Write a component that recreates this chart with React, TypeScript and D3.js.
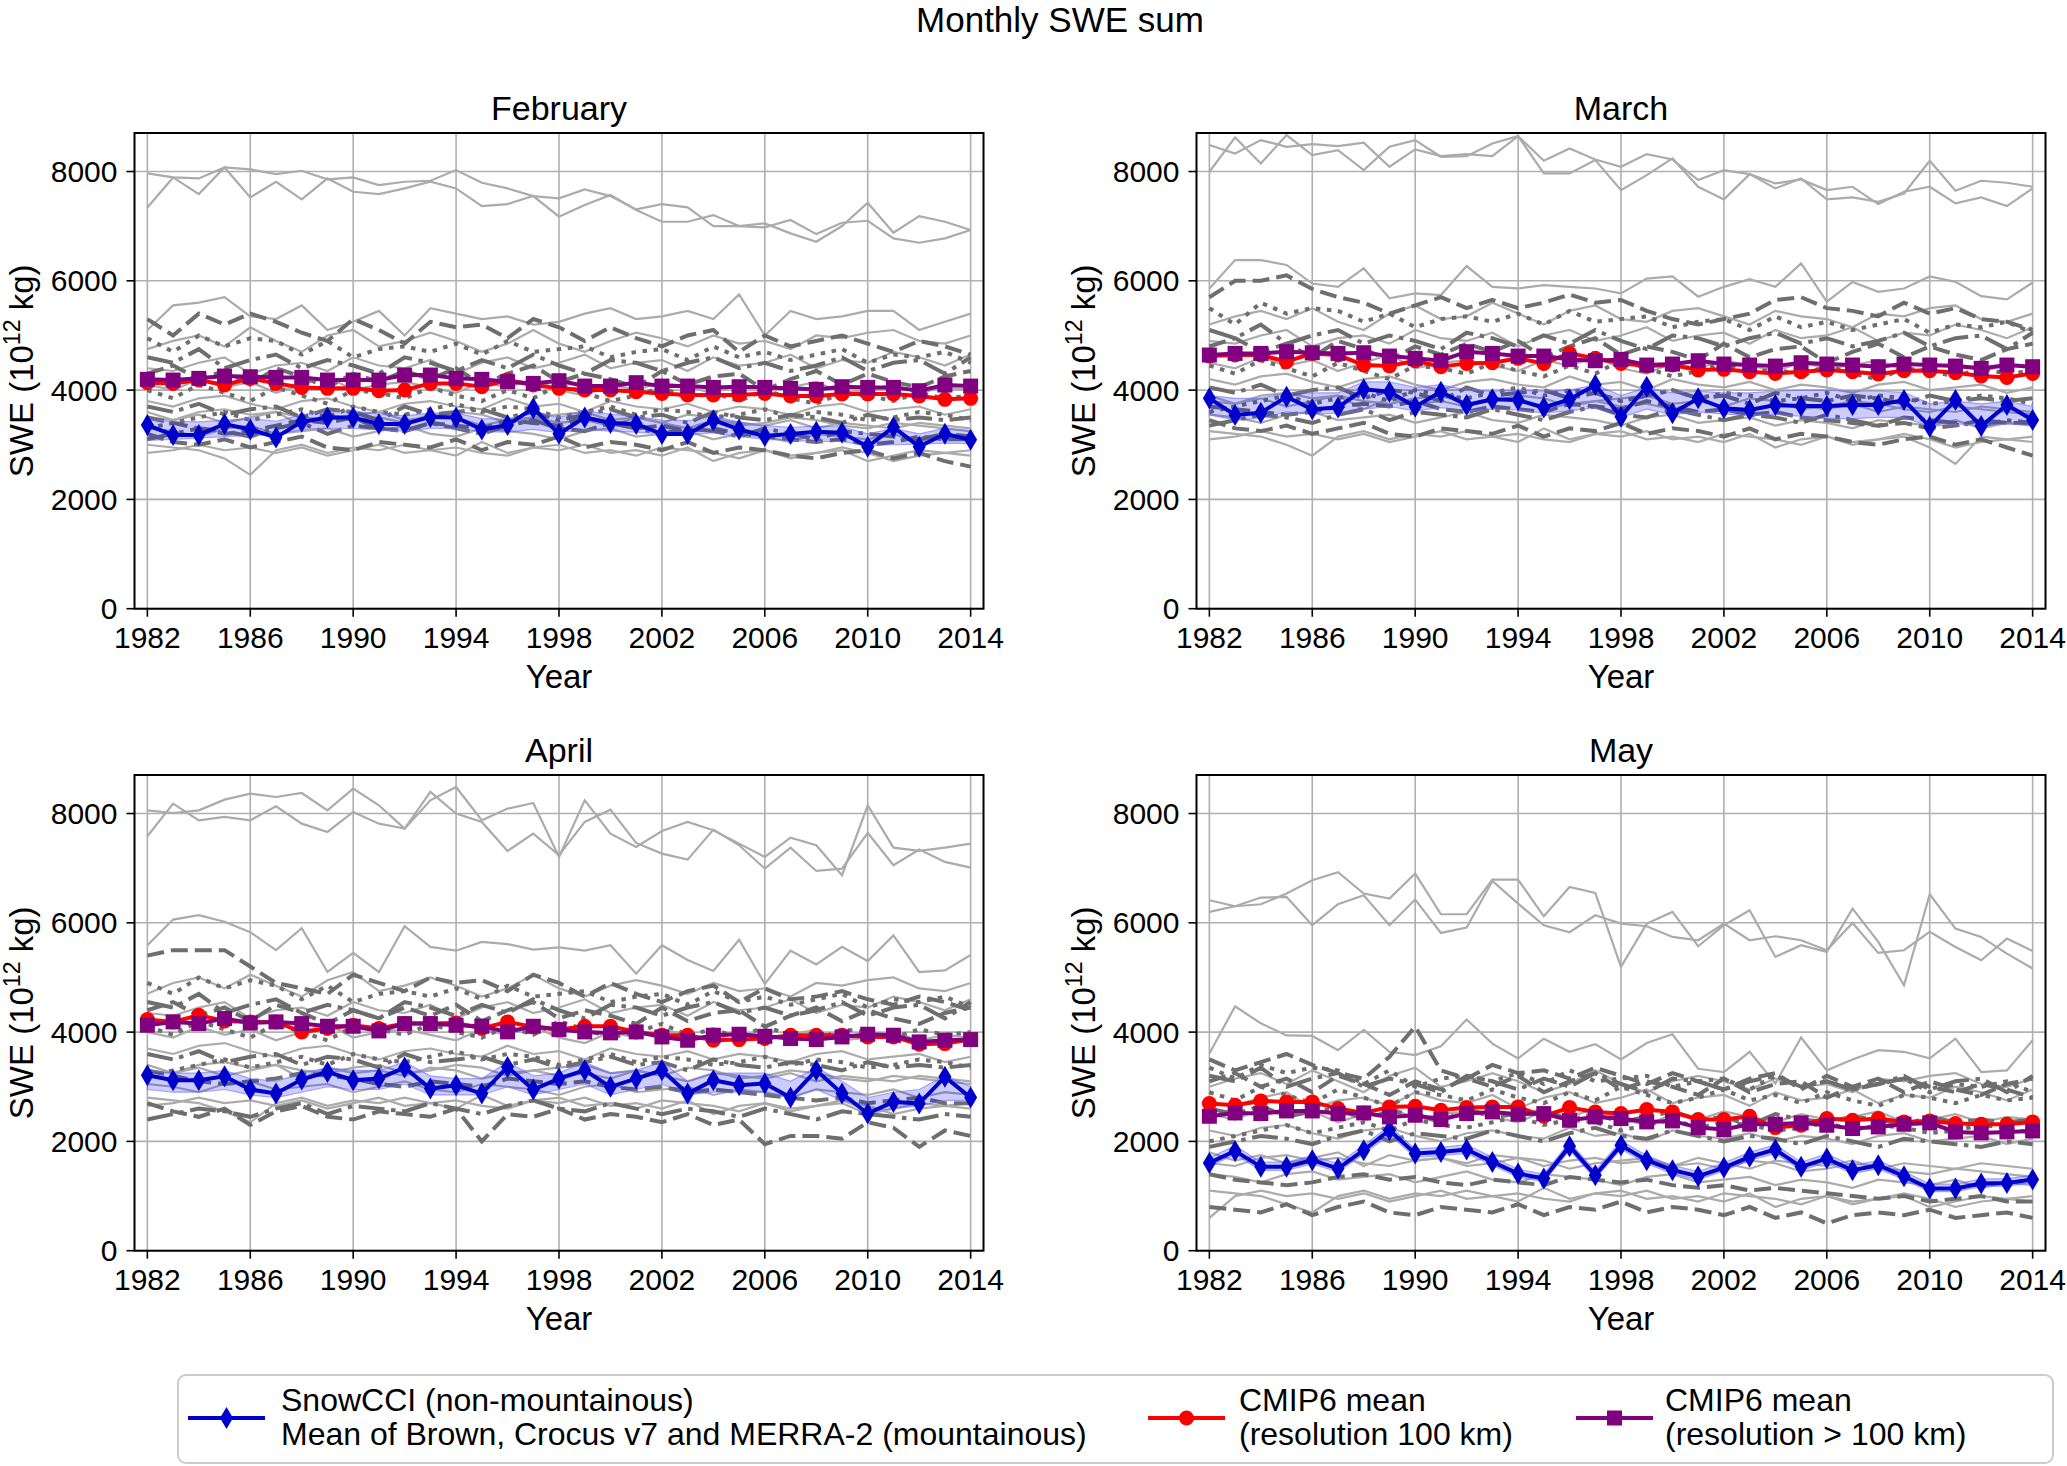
import * as d3 from "d3";
import React from "react";

// x categories and axis ticks
const years = d3.range(1982, 2015);
const yearTicks = [1982, 1986, 1990, 1994, 1998, 2002, 2006, 2010, 2014];
const sweTicks = [0, 2000, 4000, 6000, 8000];

// line style of every CMIP6 model, same order in all four months
const modelStyles = [
  "solid", "solid", "solid", "solid", "dashed", "dotted", "dashdot", "solid", "dashed", "solid", "dotted",
  "solid", "dashdot", "solid", "dashed", "solid", "dashed", "solid", "solid", "dotted", "solid", "dashdot",
];

// ---------------- February ----------------
const febObs = [3360,3180,3180,3380,3280,3135,3420,3500,3500,3380,3380,3510,3500,3280,3360,3670,3200,3500,3400,3380,3195,3195,3450,3280,3160,3195,3240,3220,2965,3320,2965,3200,3090];
const febFine = [4136,4123,4184,4093,4215,4123,4050,4032,4032,3989,4001,4123,4123,4062,4184,4093,4032,4001,4001,3971,3940,3910,3910,3910,3940,3892,3892,3928,3928,3928,3892,3831,3849];
const febCoarse = [4197,4184,4215,4257,4245,4233,4233,4184,4184,4184,4276,4276,4215,4197,4154,4123,4172,4074,4074,4136,4074,4074,4050,4062,4050,4032,4013,4062,4050,4050,3989,4093,4074];
const febLow = [3080,3100,3120,3150,3170,3180,3280,3300,3300,3270,3250,3300,3300,3240,3230,3280,3220,3280,3250,3230,3200,3180,3220,3150,3100,3080,3060,3060,2980,3000,3010,3030,3020];
const febHigh = [3450,3430,3420,3450,3480,3430,3550,3600,3620,3560,3530,3580,3580,3480,3470,3600,3500,3620,3560,3520,3450,3440,3520,3420,3350,3320,3340,3330,3200,3300,3200,3300,3250];
const febModels = [
  [7965,7892,7874,8075,8039,7953,8014,7856,7892,7752,7813,7831,8026,7795,7691,7551,7508,7673,7551,7307,7404,7343,7002,7002,6977,7112,6855,7063,7099,6776,6697,6776,6929],
  [7343,7892,7587,8075,7526,7813,7490,7874,7630,7587,7691,7813,7691,7368,7404,7551,7173,7386,7569,7295,7081,7081,7203,7002,7051,6868,6715,7002,7429,6880,7185,7081,6929],
  [5100,5550,5600,5700,5350,5300,5550,5100,5250,5450,5000,5500,5400,5300,5350,5200,5250,5400,5500,5300,5350,5450,5300,5750,5000,5450,5300,5350,5450,5450,5100,5250,5400],
  [4750,4900,5000,4800,5150,4900,4700,5000,5100,4800,4900,5050,4900,4700,4850,5100,4850,4700,4900,5050,4950,4800,5000,4850,4900,4750,5000,4950,5050,5100,4900,4850,5000],
  [5300,5000,5400,5200,5400,5250,5050,4900,5300,5100,4850,5250,5150,5200,4950,5300,5150,4900,5150,4950,4800,5000,5100,4700,5000,4800,4900,5000,4850,4700,4900,4800,4650],
  [4950,4700,5000,4800,4950,4900,4650,4900,4600,4750,4800,4700,4850,4650,4900,4700,4750,4800,4600,4700,4750,4550,4800,4600,4700,4550,4650,4750,4500,4650,4600,4700,4500],
  [4600,4500,4750,4400,4550,4650,4400,4550,4450,4300,4600,4500,4350,4550,4400,4650,4450,4300,4550,4500,4350,4500,4600,4400,4500,4350,4450,4600,4350,4500,4550,4300,4600],
  [4400,4350,4500,4600,4300,4450,4500,4350,4600,4450,4400,4550,4300,4500,4600,4400,4500,4650,4400,4500,4550,4350,4600,4450,4500,4650,4400,4550,4500,4700,4600,4450,4650],
  [4300,4450,4200,4350,4100,4400,4250,4050,4300,4150,4350,4200,4400,4100,4300,4450,4150,4300,4200,4050,4350,4100,4250,4300,4000,4200,4350,4100,4300,4150,4050,4250,4350],
  [4100,4000,4200,4050,4150,3950,4100,4250,4000,4100,4150,4050,3950,4150,4050,4200,4000,3900,4100,4000,4150,4050,3950,4100,4000,4050,4150,3950,4000,4100,3950,4050,4000],
  [4000,3850,4100,3950,3800,4050,3900,3750,4000,3950,3850,4050,3900,3800,4000,3850,4100,3950,3800,3900,4050,3850,3950,3800,4000,3850,3750,3950,3900,3800,3950,3850,3900],
  [3800,3700,3850,3900,3750,3650,3800,3850,3700,3600,3750,3800,3700,3650,3850,3700,3750,3600,3800,3700,3650,3750,3600,3700,3650,3550,3700,3750,3600,3650,3700,3550,3650],
  [3700,3600,3750,3550,3650,3700,3500,3650,3600,3450,3700,3550,3600,3650,3500,3600,3450,3550,3650,3500,3550,3400,3600,3500,3450,3550,3500,3400,3550,3450,3500,3450,3500],
  [3600,3450,3550,3400,3500,3600,3350,3550,3450,3500,3400,3550,3500,3350,3450,3500,3400,3450,3350,3500,3400,3300,3450,3400,3350,3450,3300,3400,3350,3300,3400,3350,3300],
  [3500,3400,3300,3200,3250,3350,3450,3400,3500,3300,3250,3400,3350,3300,3450,3400,3350,3500,3400,3300,3350,3250,3300,3200,3150,3100,3050,3100,3000,3050,3150,3100,3100],
  [3300,3250,3150,3300,3350,3200,3250,3300,3150,3250,3350,3200,3150,3300,3250,3200,3100,3250,3300,3150,3200,3250,3100,3200,3150,3050,3200,3150,3100,3200,3050,3150,3100],
  [3200,3050,3000,3100,2950,3050,3150,2950,2900,3050,3000,2950,3100,2900,3050,3000,3150,2950,3050,3000,2900,3050,2850,2950,2900,2800,2750,2850,2900,2750,2850,2700,2600],
  [3000,2950,2900,2750,2450,2900,3000,2850,2950,2900,3000,2900,2800,3050,2850,2950,2900,3000,2850,2900,2800,2950,2700,2850,2900,2750,2850,2900,2700,2800,2900,2850,2900],
  [2850,2900,3000,2900,2950,2850,2950,2800,2900,3000,2850,2900,2950,2850,2800,2950,3000,2850,2900,2800,2950,2900,2850,2750,2900,2800,2850,2950,2850,2700,2800,2850,2800],
  [3300,3400,3500,3600,3450,3550,3650,3500,3700,3600,3550,3650,3750,3600,3700,3650,3500,3600,3700,3550,3650,3600,3500,3550,3650,3500,3600,3550,3450,3500,3600,3550,3450],
  [3500,3450,3600,3650,3550,3600,3500,3450,3550,3600,3450,3500,3600,3550,3400,3500,3550,3600,3450,3500,3400,3550,3500,3350,3400,3500,3450,3350,3300,3400,3350,3300,3250],
  [3100,3200,3300,3250,3150,3300,3400,3200,3350,3300,3250,3400,3300,3200,3350,3450,3300,3250,3400,3300,3200,3300,3250,3150,3300,3200,3100,3250,3200,3150,3100,3200,3150],
];

// ---------------- March ----------------
const marObs = [3849,3544,3587,3879,3648,3684,4014,3971,3697,3971,3727,3831,3818,3684,3831,4093,3514,4062,3575,3849,3666,3636,3727,3709,3709,3727,3727,3818,3331,3818,3343,3727,3453];
const marFine = [4623,4642,4642,4520,4672,4642,4459,4440,4538,4428,4489,4501,4581,4489,4672,4581,4489,4440,4459,4367,4380,4337,4306,4337,4367,4337,4294,4355,4355,4318,4258,4233,4306];
const marCoarse = [4642,4672,4672,4703,4684,4672,4684,4623,4581,4538,4703,4672,4623,4623,4562,4538,4562,4459,4477,4538,4477,4459,4440,4501,4477,4459,4428,4477,4459,4440,4398,4459,4428];
const marLow = [3550,3450,3480,3600,3560,3580,3650,3700,3620,3680,3620,3650,3640,3580,3620,3680,3500,3650,3550,3600,3560,3540,3560,3520,3480,3480,3500,3500,3330,3380,3360,3380,3360];
const marHigh = [3900,3850,3850,3950,3950,3950,4150,4150,4050,4100,4000,3980,4000,3980,4000,4100,3900,4050,3950,3980,3950,3950,3980,4000,4000,3980,3980,3960,3750,3800,3750,3800,3700];
const marModels = [
  [8484,8331,8575,8453,8502,8465,8526,8087,8404,8282,8319,8282,8648,8197,8423,8221,8087,8319,8221,7843,8026,7953,7782,7856,7660,7721,7404,7630,7721,7416,7526,7368,7691],
  [7996,8624,8148,8667,8301,8392,8026,8453,8575,8270,8282,8514,8648,7965,7965,8209,7660,7935,8240,7721,7490,7953,7691,7874,7490,7526,7447,7599,8197,7648,7831,7795,7721],
  [5860,6380,6380,6290,5950,5890,6230,5680,5770,5740,6270,5890,5860,5920,5890,5860,5770,6040,6080,5710,5890,6030,5890,6320,5620,5980,5800,5860,6080,5980,5720,5660,5970],
  [5200,5350,5450,5300,5500,5250,5100,5400,5550,5300,5350,5600,5400,5200,5450,5550,5300,5250,5450,5500,5350,5200,5450,5350,5300,5150,5400,5350,5500,5550,5300,5250,5400],
  [5700,6000,6000,6100,5850,5700,5600,5400,5550,5700,5500,5650,5500,5600,5750,5600,5650,5450,5300,5200,5300,5400,5650,5700,5500,5450,5350,5600,5400,5500,5300,5250,5100],
  [5500,5200,5600,5400,5500,5450,5250,5400,5150,5300,5350,5250,5400,5200,5450,5250,5300,5350,5150,5250,5300,5100,5350,5150,5250,5100,5200,5300,5050,5200,5150,5250,5050],
  [5100,4950,5200,4850,5000,5100,4850,5000,4900,4750,5050,4950,4800,5000,4850,5100,4900,4750,5000,4950,4800,4950,5050,4850,4950,4800,4900,5050,4800,4950,5000,4750,5050],
  [4900,4850,5000,5100,4800,4950,5000,4850,5100,4950,4900,5050,4800,5000,5100,4900,5000,5150,4900,5000,5050,4850,5100,4950,5000,5150,4900,5050,5000,5200,5100,4950,5150],
  [4800,4950,4700,4850,4600,4900,4750,4550,4800,4650,4850,4700,4900,4600,4800,4950,4650,4800,4700,4550,4850,4600,4750,4800,4500,4700,4850,4600,4800,4650,4550,4750,4850],
  [4500,4400,4600,4450,4550,4350,4500,4650,4400,4500,4550,4450,4350,4550,4450,4600,4400,4300,4500,4400,4550,4450,4350,4500,4400,4450,4550,4350,4400,4500,4350,4450,4400],
  [4450,4300,4550,4400,4250,4500,4350,4200,4450,4400,4300,4500,4350,4250,4450,4300,4550,4400,4250,4350,4500,4300,4400,4250,4450,4300,4200,4400,4350,4250,4400,4300,4350],
  [4200,4100,4250,4300,4150,4050,4200,4250,4100,4000,4150,4200,4100,4050,4250,4100,4150,4000,4200,4100,4050,4150,4000,4100,4050,3950,4100,4150,4000,4050,4100,3950,4050],
  [4050,3950,4100,3900,4000,4050,3850,4000,3950,3800,4050,3900,3950,4000,3850,3950,3800,3900,4000,3850,3900,3750,3950,3850,3800,3900,3850,3750,3900,3800,3850,3800,3850],
  [3900,3750,3850,3700,3800,3900,3650,3850,3750,3800,3700,3850,3800,3650,3750,3800,3700,3750,3650,3800,3700,3600,3750,3700,3650,3750,3600,3700,3650,3600,3700,3650,3600],
  [3700,3650,3600,3550,3600,3700,3750,3700,3800,3650,3600,3700,3650,3600,3750,3700,3650,3800,3700,3600,3650,3550,3600,3500,3450,3400,3350,3400,3300,3350,3450,3400,3400],
  [3550,3500,3400,3550,3600,3450,3500,3550,3400,3500,3600,3450,3400,3550,3500,3450,3350,3500,3550,3400,3450,3500,3350,3450,3400,3300,3450,3400,3350,3450,3300,3400,3350],
  [3450,3300,3250,3350,3200,3300,3400,3200,3150,3300,3250,3200,3350,3150,3300,3250,3400,3200,3300,3250,3150,3300,3100,3200,3150,3050,3000,3100,3150,3000,3100,2950,2800],
  [3250,3200,3150,3000,2800,3150,3250,3100,3200,3150,3250,3150,3050,3300,3100,3200,3150,3250,3100,3150,3050,3200,2950,3100,3150,3000,3100,3150,2950,2650,3150,3100,3150],
  [3100,3150,3250,3150,3200,3100,3200,3050,3150,3250,3100,3150,3200,3100,3050,3200,3250,3100,3150,3050,3200,3150,3100,3000,3150,3050,3100,3200,3100,2950,3050,3100,3050],
  [3600,3700,3800,3900,3750,3850,3950,3800,4000,3900,3850,3950,4050,3900,4000,3950,3800,3900,4000,3850,3950,3900,3800,3850,3950,3800,3900,3850,3750,3800,3900,3850,3750],
  [3800,3750,3900,3950,3850,3900,3800,3750,3850,3900,3750,3800,3900,3850,3700,3800,3850,3900,3750,3800,3700,3850,3800,3650,3700,3800,3750,3650,3600,3700,3650,3600,3550],
  [3350,3450,3550,3500,3400,3550,3650,3450,3600,3550,3500,3650,3550,3450,3600,3700,3550,3500,3650,3550,3450,3550,3500,3400,3550,3450,3350,3500,3450,3400,3350,3450,3400],
];

// ---------------- April ----------------
const aprObs = [3211,3120,3120,3193,2949,2876,3132,3272,3120,3150,3351,2967,3028,2876,3363,2949,3150,3302,2998,3150,3302,2876,3120,3028,3059,2802,3302,2876,2510,2723,2693,3181,2802];
const aprFine = [4229,4187,4309,4205,4187,4187,4004,4065,4126,4065,4156,4156,4168,4065,4187,4095,4046,4107,4107,4004,3943,3943,3851,3863,3882,3943,3943,3943,3912,3912,3778,3790,3863];
const aprCoarse = [4126,4187,4156,4248,4168,4187,4156,4107,4107,4022,4156,4156,4126,4107,4004,4107,4046,4004,3986,4004,3912,3851,3943,3961,3924,3882,3863,3912,3961,3943,3821,3851,3863];
const aprLow = [2950,2900,2900,2950,2850,2800,2900,3000,2950,2950,3050,2850,2850,2850,3000,2850,2950,3050,2850,2950,3050,2850,2900,2900,2900,2800,2950,2750,2550,2600,2650,2750,2750];
const aprHigh = [3300,3250,3250,3300,3150,3100,3250,3350,3300,3300,3450,3200,3150,3150,3450,3200,3250,3450,3250,3300,3450,3100,3250,3250,3250,3100,3350,3100,2800,2900,2950,3200,3000];
const aprModels = [
  [8059,8010,8059,8254,8364,8303,8376,8059,8456,8151,7724,8242,8486,7876,8090,8193,7206,8242,7632,7388,7681,7846,7693,7449,7206,7559,7419,6870,8151,7376,7315,7376,7449],
  [7584,8181,7876,7937,7876,8132,7815,7663,8029,7815,7724,8395,7998,7846,7315,7632,7236,7846,8071,7462,7266,7157,7706,7419,6992,7376,6949,6992,7645,7053,7340,7114,7010],
  [5590,6060,6140,6020,5830,5500,5900,5100,5450,5100,5940,5560,5490,5650,5610,5510,5550,5490,5590,5070,5590,5320,5120,5690,4880,5490,5240,5560,5300,5770,5100,5130,5410],
  [4700,4900,5000,4800,5050,4850,4650,4950,5100,4750,4850,5000,4850,4650,4800,5050,4800,4650,4850,4950,4850,4700,4900,4750,4800,4650,4900,4850,4950,5000,4800,4750,4900],
  [5400,5500,5500,5500,5200,4900,4800,4700,5050,4900,4750,5000,4900,4950,4750,5050,4900,4650,4900,4700,4550,4750,4850,4550,4800,4600,4650,4750,4600,4500,4650,4550,4400],
  [4900,4700,5000,4800,4950,4850,4600,4850,4550,4700,4750,4650,4800,4600,4850,4650,4700,4750,4550,4650,4700,4500,4750,4550,4650,4500,4600,4700,4450,4600,4550,4650,4450],
  [4550,4450,4700,4350,4500,4600,4350,4500,4400,4250,4550,4450,4300,4500,4350,4600,4400,4250,4500,4450,4300,4450,4550,4350,4450,4300,4400,4550,4300,4450,4500,4250,4550],
  [4350,4300,4450,4550,4250,4400,4450,4300,4550,4400,4350,4500,4250,4450,4550,4350,4450,4600,4350,4450,4500,4300,4550,4400,4450,4600,4350,4500,4450,4650,4550,4400,4600],
  [4400,4550,4300,4450,4200,4500,4350,4150,4400,4250,4450,4300,4500,4200,4400,4550,4250,4400,4300,4150,4450,4200,4350,4400,4100,4300,4450,4200,4400,4250,4150,4350,4450],
  [4000,3900,4100,3950,4050,3850,4000,4150,3900,4000,4050,3950,3850,4050,3950,4100,3900,3800,4000,3900,4050,3950,3850,4000,3900,3950,4050,3850,3900,4000,3850,3950,3900],
  [4100,3950,4200,4050,3900,4150,4000,3850,4100,4050,3950,4150,4000,3900,4100,3950,4200,4050,3900,4000,4150,3950,4050,3900,4100,3950,3850,4050,4000,3900,4050,3950,4000],
  [3700,3600,3750,3800,3650,3550,3700,3750,3600,3500,3650,3700,3600,3550,3750,3600,3650,3500,3700,3600,3550,3650,3500,3600,3550,3450,3600,3650,3500,3550,3600,3450,3550],
  [3600,3500,3650,3450,3550,3600,3400,3550,3500,3350,3600,3450,3500,3550,3400,3500,3350,3450,3550,3400,3450,3300,3500,3400,3350,3450,3400,3300,3450,3350,3400,3350,3400],
  [3400,3250,3350,3200,3300,3400,3150,3350,3250,3300,3200,3350,3300,3150,3250,3300,3200,3250,3150,3300,3200,3100,3250,3200,3150,3250,3100,3200,3150,3100,3200,3150,3100],
  [3300,3200,3100,3050,3100,3150,3250,3200,3150,3050,3000,3100,3050,3000,3150,3100,3050,3100,3000,2950,3000,2900,2950,2900,2850,2800,2750,2800,2700,2750,2800,2700,2700],
  [3050,3000,2900,3050,3100,2950,3000,3050,2900,3000,3100,2950,2900,3050,3000,2950,2850,3000,3050,2900,2950,3000,2850,2950,2900,2800,2950,2900,2850,2950,2800,2900,2850],
  [2700,2550,2450,2600,2300,2550,2650,2450,2400,2550,2500,2450,2600,2000,2500,2450,2600,2400,2500,2450,2350,2500,2300,2400,1950,2100,2100,2050,2350,2250,1900,2200,2100],
  [2800,2750,2700,2550,2350,2700,2800,2650,2750,2700,2800,2700,2600,2850,2650,2750,2700,2800,2650,2700,2600,2750,2500,2650,2700,2550,2650,2700,2500,2600,2700,2650,2700],
  [2650,2700,2800,2700,2750,2650,2750,2600,2700,2800,2650,2700,2750,2650,2600,2750,2800,2650,2700,2600,2750,2700,2650,2550,2700,2600,2650,2750,2650,2500,2600,2650,2600],
  [3200,3300,3400,3500,3350,3450,3550,3400,3600,3500,3450,3550,3650,3500,3600,3550,3400,3500,3600,3450,3550,3500,3400,3450,3550,3400,3500,3450,3350,3400,3500,3450,3350],
  [3300,3250,3400,3450,3350,3400,3300,3250,3350,3400,3250,3300,3400,3350,3200,3300,3350,3400,3250,3300,3200,3350,3300,3150,3200,3300,3250,3150,3100,3200,3150,3100,3050],
  [2400,2500,2600,2550,2450,2600,2700,2500,2650,2600,2550,2700,2600,2500,2650,2750,2600,2550,2700,2600,2500,2600,2550,2450,2600,2500,2400,2550,2500,2450,2400,2500,2450],
];

// ---------------- May ----------------
const mayObs = [1607,1826,1534,1534,1656,1503,1839,2204,1778,1808,1851,1625,1412,1320,1912,1381,1930,1656,1473,1363,1521,1717,1851,1534,1686,1473,1564,1363,1137,1137,1229,1241,1302];
const mayFine = [2692,2662,2741,2723,2723,2601,2521,2631,2643,2570,2619,2631,2631,2460,2619,2540,2509,2582,2540,2400,2400,2460,2253,2296,2418,2387,2418,2357,2375,2326,2314,2314,2357];
const mayCoarse = [2460,2521,2509,2558,2558,2509,2521,2448,2479,2400,2509,2540,2497,2509,2387,2448,2418,2357,2375,2253,2217,2314,2314,2339,2296,2235,2265,2314,2339,2174,2156,2174,2192];
const mayLow = [1540,1760,1470,1470,1590,1440,1770,2120,1710,1740,1780,1560,1350,1260,1840,1320,1860,1590,1410,1300,1460,1650,1780,1470,1620,1410,1500,1300,1080,1080,1170,1180,1240];
const mayHigh = [1700,1920,1620,1620,1740,1590,1930,2280,1860,1890,1940,1710,1490,1400,1990,1460,2010,1740,1560,1450,1610,1800,1940,1620,1770,1560,1650,1450,1220,1220,1310,1320,1380];
const mayModels = [
  [6413,6303,6340,6535,6779,6925,6535,6443,6901,6157,6157,6791,6791,6120,6657,6547,5193,5986,6199,5571,5956,6230,5376,5590,5468,6260,5651,4858,6523,5895,5742,5437,5163],
  [6199,6303,6462,6474,5956,6340,6504,5956,6425,5815,5913,6767,6352,5956,5827,6138,5986,5937,5742,5681,5986,5681,5754,5681,5498,5998,5449,5498,5834,5559,5315,5712,5486],
  [3610,4470,4160,3940,3930,3670,4040,3640,3580,3740,4230,3790,3520,3880,3640,3780,3500,3800,3960,3330,3270,3640,3060,3900,3300,3500,3670,3640,3520,3880,3270,3300,3850],
  [3000,3150,3250,3050,3300,3100,2900,3200,3350,3000,3100,3250,3100,2900,3050,3300,3050,2900,3100,3200,3100,2950,3150,3000,3050,2900,3150,3100,3200,3250,3050,3000,3150],
  [3500,3300,3450,3600,3400,3250,3150,3550,4100,3300,3150,3400,3250,3300,3150,3350,3200,3050,3250,3100,2950,3150,3250,2950,3200,3000,3050,3150,3000,2900,3050,2950,2800],
  [3350,3150,3400,3250,3350,3300,3050,3300,3000,3150,3200,3100,3250,3050,3300,3100,3150,3200,3000,3100,3150,2950,3200,3000,3100,2950,3050,3150,2900,3050,3000,3100,2900],
  [3200,3100,3350,3000,3150,3250,3000,3150,3050,2900,3200,3100,2950,3150,3000,3250,3050,2900,3150,3100,2950,3100,3200,3000,3100,2950,3050,3200,2950,3100,3150,2900,3200],
  [2700,2650,2800,2900,2600,2750,2800,2650,2900,2750,2700,2850,2600,2800,2900,2700,2800,2950,2700,2800,2850,2650,2900,2750,2800,2950,2700,2850,2800,3000,2900,2750,2950],
  [3100,3250,3000,3150,2900,3200,3050,2850,3100,2950,3150,3000,3200,2900,3100,3250,2950,3100,3000,2850,3150,2900,3050,3100,2800,3000,3150,2900,3100,2950,2850,3050,3150],
  [2500,2400,2600,2450,2550,2350,2500,2650,2400,2500,2550,2450,2350,2550,2450,2600,2400,2300,2500,2400,2550,2450,2350,2500,2400,2450,2550,2350,2400,2500,2350,2450,2400],
  [2900,2750,3000,2850,2700,2950,2800,2650,2900,2850,2750,2950,2800,2700,2900,2750,3000,2850,2700,2800,2950,2750,2850,2700,2900,2750,2650,2850,2800,2700,2850,2750,2800],
  [2200,2100,2250,2300,2150,2050,2200,2250,2100,2000,2150,2200,2100,2050,2250,2100,2150,2000,2200,2100,2050,2150,2000,2100,2050,1950,2100,2150,2000,2050,2100,1950,2050],
  [2600,2500,2650,2450,2550,2600,2400,2550,2500,2350,2600,2450,2500,2550,2400,2500,2350,2450,2550,2400,2450,2300,2500,2400,2350,2450,2400,2300,2450,2350,2400,2350,2400],
  [1800,1650,1750,1600,1700,1800,1550,1750,1650,1700,1600,1750,1700,1550,1650,1700,1600,1650,1550,1700,1600,1500,1650,1600,1550,1650,1500,1600,1550,1500,1600,1550,1500],
  [1400,1300,1250,1200,1250,1350,1400,1300,1350,1250,1200,1300,1250,1200,1350,1300,1250,1300,1200,1150,1200,1100,1150,1100,1050,1000,950,1000,900,950,1000,900,900],
  [1400,1350,1250,1400,1450,1300,1350,1400,1250,1350,1450,1300,1250,1400,1350,1300,1200,1350,1400,1250,1300,1350,1200,1300,1250,1150,1300,1250,1200,1300,1150,1250,1200],
  [800,750,700,850,650,800,900,700,650,800,750,700,850,650,800,750,900,700,800,750,650,800,600,700,500,650,700,650,750,600,650,700,600],
  [1100,1050,1000,850,700,1000,1100,950,1050,1000,1100,1000,900,1150,950,1050,1000,1100,950,1000,900,1050,800,950,1000,850,950,1000,800,900,1000,950,1000],
  [600,1000,1100,1000,1050,950,1050,900,1000,1100,950,1000,1050,950,900,1050,1100,950,1000,900,1050,1000,950,850,1000,900,950,1050,950,800,900,950,900],
  [2000,2100,2200,2300,2150,2250,2350,2200,2400,2300,2250,2350,2450,2300,2400,2350,2200,2300,2400,2250,2350,2300,2200,2250,2350,2200,2300,2250,2150,2200,2300,2250,2150],
  [1600,1550,1700,1750,1650,1700,1600,1550,1650,1700,1550,1600,1700,1650,1500,1600,1650,1700,1550,1600,1500,1650,1600,1450,1500,1600,1550,1450,1400,1500,1450,1400,1350],
  [1900,2000,2100,2050,1950,2100,2200,2000,2150,2100,2050,2200,2100,2000,2150,2250,2100,2050,2200,2100,2000,2100,2050,1950,2100,2000,1900,2050,2000,1950,1900,2000,1950],
];

const FONT = "'Liberation Sans', Arial, Helvetica, sans-serif";
const PW = 849;
const PH = 475.7;
const BLUE = "#0000cd";
const RED = "#ff0000";
const PURPLE = "#800080";
const DIAMOND = "M0,-11L6.5,0L0,11L-6.5,0Z";

function styleProps(s: string) {
  if (s === "solid") return { stroke: "#ababab", strokeWidth: 2.2 };
  const dash = s === "dashed" ? "17,7" : s === "dotted" ? "4.5,6.6" : "26,6.6,4.5,6.6";
  return { stroke: "#6e6e6e", strokeWidth: 4, strokeDasharray: dash };
}

interface PanelProps {
  title: string;
  left: number;
  top: number;
  models: number[][];
  low: number[];
  high: number[];
  obs: number[];
  fine: number[];
  coarse: number[];
}

function Panel({ title, left, top, models, low, high, obs, fine, coarse }: PanelProps) {
  const x = d3.scaleLinear().domain([1981.5, 2014.5]).range([0, PW]);
  const y = d3.scaleLinear().domain([0, 8705]).range([PH, 0]);
  const line = d3
    .line<number>()
    .defined((d) => d != null)
    .x((_, i) => x(years[i]))
    .y((d) => y(d));
  const band = d3
    .area<number>()
    .x((_, i) => x(years[i]))
    .y0((_, i) => y(low[i]))
    .y1((d) => y(d));
  // light solid models underneath, patterned ones on top
  const order = d3
    .range(models.length)
    .sort((a, b) => (modelStyles[a] === "solid" ? 0 : 1) - (modelStyles[b] === "solid" ? 0 : 1));

  return (
    <g transform={`translate(${left},${top})`}>
      {yearTicks.map((t) => (
        <line key={"gx" + t} x1={x(t)} x2={x(t)} y1={0} y2={PH} stroke="#b0b0b0" strokeWidth={1.6} />
      ))}
      {sweTicks.map((t) => (
        <line key={"gy" + t} x1={0} x2={PW} y1={y(t)} y2={y(t)} stroke="#b0b0b0" strokeWidth={1.6} />
      ))}
      {order.map((k) => (
        <path key={"m" + k} d={line(models[k]) || ""} fill="none" {...styleProps(modelStyles[k])} />
      ))}
      <path d={band(high) || ""} fill="#0000ff" fillOpacity={0.2} stroke="#7070ff" strokeOpacity={0.6} strokeWidth={1.2} />
      <path d={line(obs) || ""} fill="none" stroke={BLUE} strokeWidth={4} />
      {obs.map((v, i) => (
        <path key={"d" + i} d={DIAMOND} transform={`translate(${x(years[i])},${y(v)})`} fill={BLUE} />
      ))}
      <path d={line(fine) || ""} fill="none" stroke={RED} strokeWidth={4} />
      {fine.map((v, i) => (
        <circle key={"c" + i} cx={x(years[i])} cy={y(v)} r={7.5} fill={RED} />
      ))}
      <path d={line(coarse) || ""} fill="none" stroke={PURPLE} strokeWidth={4} />
      {coarse.map((v, i) => (
        <rect key={"s" + i} x={x(years[i]) - 7.5} y={y(v) - 7.5} width={15} height={15} fill={PURPLE} />
      ))}
      <rect x={0} y={0} width={PW} height={PH} fill="none" stroke="#000" strokeWidth={2} />
      {yearTicks.map((t) => (
        <g key={"tx" + t}>
          <line x1={x(t)} x2={x(t)} y1={PH} y2={PH + 8} stroke="#000" strokeWidth={1.6} />
          <text x={x(t)} y={PH + 39.5} textAnchor="middle" fontSize={30}>
            {t}
          </text>
        </g>
      ))}
      {sweTicks.map((t) => (
        <g key={"ty" + t}>
          <line x1={-8} x2={0} y1={y(t)} y2={y(t)} stroke="#000" strokeWidth={1.6} />
          <text x={-17} y={y(t) + 10.5} textAnchor="end" fontSize={30}>
            {t}
          </text>
        </g>
      ))}
      <text x={PW / 2} y={-13} textAnchor="middle" fontSize={34}>
        {title}
      </text>
      <text x={PW / 2} y={PH + 79} textAnchor="middle" fontSize={33}>
        Year
      </text>
      <text transform={`translate(${-102},${PH / 2}) rotate(-90)`} textAnchor="middle" fontSize={33}>
        SWE (10<tspan dy={-13} fontSize={23}>12</tspan><tspan dy={13}> kg)</tspan>
      </text>
    </g>
  );
}

function Legend() {
  const hy = 1418;
  return (
    <g fontSize={32}>
      <rect x={178} y={1375} width={1875} height={88} rx={8} fill="#fff" stroke="#cccccc" strokeWidth={2} />
      <line x1={188} x2={265} y1={hy} y2={hy} stroke={BLUE} strokeWidth={4} />
      <path d={DIAMOND} transform={`translate(226.5,${hy})`} fill={BLUE} />
      <text x={281} y={1411}>SnowCCI (non-mountainous)</text>
      <text x={281} y={1445}>Mean of Brown, Crocus v7 and MERRA-2 (mountainous)</text>
      <line x1={1148} x2={1225} y1={hy} y2={hy} stroke={RED} strokeWidth={4} />
      <circle cx={1186.5} cy={hy} r={7.5} fill={RED} />
      <text x={1239} y={1411}>CMIP6 mean</text>
      <text x={1239} y={1445}>(resolution 100 km)</text>
      <line x1={1576} x2={1653} y1={hy} y2={hy} stroke={PURPLE} strokeWidth={4} />
      <rect x={1607} y={hy - 7.5} width={15} height={15} fill={PURPLE} />
      <text x={1665} y={1411}>CMIP6 mean</text>
      <text x={1665} y={1445}>(resolution &gt; 100 km)</text>
    </g>
  );
}

export default function App() {
  return (
    <svg
      width={2067}
      height={1466}
      style={{ position: "absolute", left: 0, top: 0, background: "#fff" }}
      fontFamily={FONT}
    >
      <text x={1060} y={32} textAnchor="middle" fontSize={35}>
        Monthly SWE sum
      </text>
      <Panel title="February" left={134.5} top={133} models={febModels} low={febLow} high={febHigh} obs={febObs} fine={febFine} coarse={febCoarse} />
      <Panel title="March" left={1196.5} top={133} models={marModels} low={marLow} high={marHigh} obs={marObs} fine={marFine} coarse={marCoarse} />
      <Panel title="April" left={134.5} top={775} models={aprModels} low={aprLow} high={aprHigh} obs={aprObs} fine={aprFine} coarse={aprCoarse} />
      <Panel title="May" left={1196.5} top={775} models={mayModels} low={mayLow} high={mayHigh} obs={mayObs} fine={mayFine} coarse={mayCoarse} />
      <Legend />
    </svg>
  );
}
